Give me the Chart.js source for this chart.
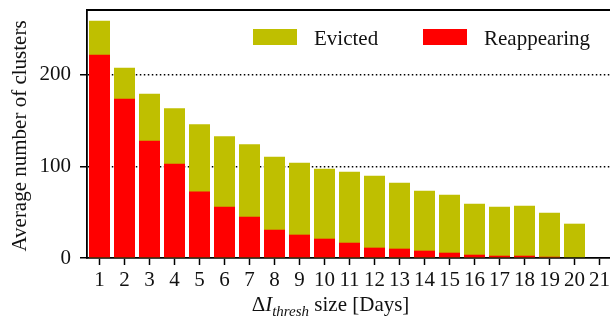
<!DOCTYPE html>
<html><head><meta charset="utf-8">
<script src="https://cdn.jsdelivr.net/npm/chart.js@4"></script>
<style>html,body{margin:0;padding:0;background:#fff;overflow:hidden}#wrap{width:612px;height:318px;position:relative}</style>
</head><body><div id="wrap"><canvas id="c"></canvas></div>
<script>
const categories = ['1','2','3','4','5','6','7','8','9','10','11','12','13','14','15','16','17','18','19','20','21'];
const evicted = [259.3,207.9,179.6,163.6,146.2,133.1,124.4,110.7,104.1,97.6,94.3,89.9,82.3,73.4,69.2,59.3,56.1,57.2,49.5,37.5,0];
const reappearing = [222.2,174.1,128.2,103.1,72.6,56.1,45.1,30.9,25.5,21.1,16.7,11.3,10.2,8.0,5.8,3.6,2.5,2.5,1.4,0,0];
const yTicks = [0,100,200];
const seriesNames = ['Evicted','Reappearing'];
const seriesColors = ['#bfbf00','#ff0000'];

const FONT = '"Liberation Serif", "DejaVu Serif", serif';

const decor = {
  id: 'decor',
  afterDraw(chart) {
    const ctx = chart.ctx, a = chart.chartArea;
    ctx.save();
    ctx.strokeStyle = '#000'; ctx.lineWidth = 1.8;
    ctx.beginPath(); ctx.moveTo(a.left - 0.9, a.top); ctx.lineTo(a.right + 2, a.top); ctx.stroke();
    ctx.font = '21px ' + FONT; ctx.textBaseline = 'alphabetic';
    const items = chart.data.datasets;
    const boxX = [253, 423];
    items.forEach((d, i) => {
      ctx.fillStyle = d.backgroundColor;
      ctx.fillRect(boxX[i], 29, 44, 16);
      ctx.fillStyle = '#111';
      ctx.fillText(d.label, boxX[i] + 61, 45);
    });
    ctx.save();
    ctx.translate(20, (a.top + a.bottom) / 2 + 2);
    ctx.rotate(-Math.PI / 2);
    ctx.textAlign = 'center'; ctx.textBaseline = 'middle';
    ctx.fillStyle = '#111';
    ctx.fillText('Average number of clusters', 0, 0);
    ctx.restore();
    const parts = [
      {t: 'Δ', f: '21px ' + FONT, dy: 0},
      {t: 'I', f: 'italic 21px ' + FONT, dy: 0},
      {t: 'thresh', f: 'italic 15px ' + FONT, dy: 5},
      {t: ' size [Days]', f: '21px ' + FONT, dy: 0}
    ];
    let w = 0;
    parts.forEach(p => { ctx.font = p.f; p.w = ctx.measureText(p.t).width; w += p.w; });
    let x = 330.5 - w / 2;
    ctx.textAlign = 'left'; ctx.fillStyle = '#111';
    parts.forEach(p => { ctx.font = p.f; ctx.fillText(p.t, x, 311 + p.dy); x += p.w; });
    ctx.restore();
  }
};

new Chart(document.getElementById('c'), {
  type: 'bar',
  data: {
    labels: categories,
    datasets: [
      {label: seriesNames[0], data: evicted, backgroundColor: seriesColors[0], order: 1},
      {label: seriesNames[1], data: reappearing, backgroundColor: seriesColors[1], order: 0}
    ]
  },
  options: {
    responsive: true, maintainAspectRatio: false, animation: false,
    devicePixelRatio: 1,
    layout: {padding: {top: 10, left: 0, right: 0, bottom: 0}},
    datasets: {bar: {grouped: false, barPercentage: 0.84, categoryPercentage: 1.0, borderWidth: 0}},
    plugins: {legend: {display: false}, tooltip: {enabled: false}},
    scales: {
      x: {
        offset: true,
        grid: {offset: false, drawOnChartArea: false, tickLength: 7, tickColor: '#000', tickWidth: 1.5, tickBorderDash: []},
        border: {display: true, color: '#000', width: 1.8},
        ticks: {color: '#111', font: {family: FONT, size: 21}, padding: 3, maxRotation: 0, autoSkip: false},
        afterFit(s) { s.height = 60; s.paddingLeft = 0; s.paddingRight = 0; }
      },
      y: {
        min: 0, max: 271,
        afterBuildTicks(s) { s.ticks = yTicks.map(v => ({value: v})); },
        grid: {
          color: c => (c.tick && c.tick.value === 0) ? 'rgba(0,0,0,0)' : '#000',
          lineWidth: 1.5, tickLength: 7, tickColor: '#000', tickWidth: 1.5, tickBorderDash: []
        },
        border: {display: true, color: '#000', width: 1.8, dash: [1.5, 2.5]},
        ticks: {color: '#111', font: {family: FONT, size: 21}, padding: 9},
        afterFit(s) { s.width = 87; s.paddingTop = 0; s.paddingBottom = 0; }
      }
    }
  },
  plugins: [decor]
});
</script></body></html>
